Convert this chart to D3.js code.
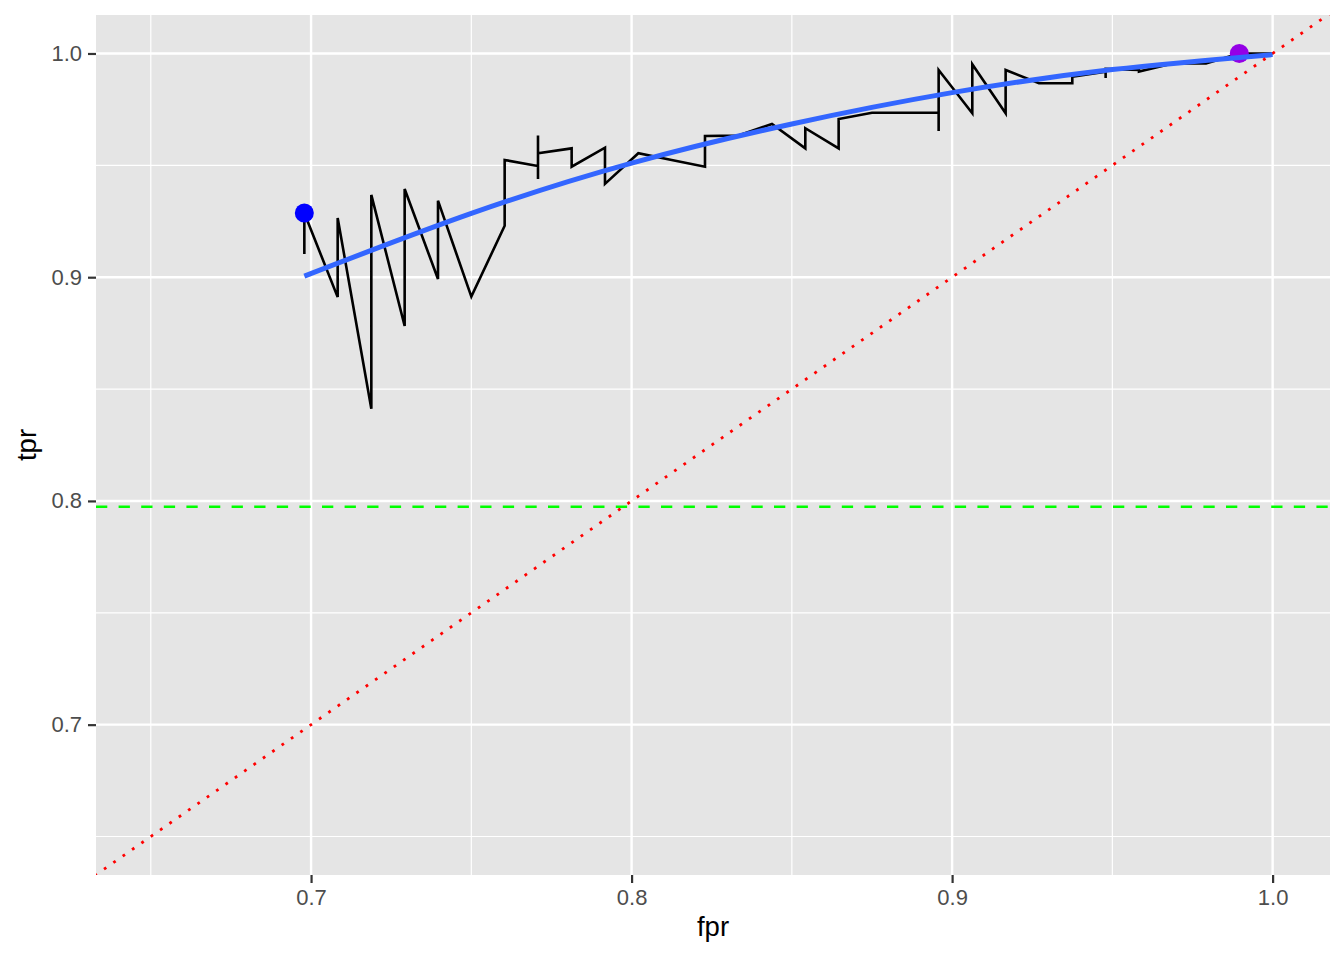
<!DOCTYPE html>
<html>
<head>
<meta charset="utf-8">
<script src="https://cdn.jsdelivr.net/npm/d3@7"></script>
<style>
  html, body { margin: 0; padding: 0; background: #ffffff; }
  svg { display: block; }
  text { font-family: "Liberation Sans", Arial, Helvetica, sans-serif; }
</style>
</head>
<body>
<svg id="chart" width="1344" height="960"></svg>
<script>
// ---- data ----
const fpr = [0.6979,0.6979,0.7083,0.7083,0.7188,0.7188,0.7292,0.7292,0.7396,0.7396,0.75,0.7604,0.7604,0.7708,0.7708,0.7708,0.7708,0.7813,0.7813,0.7917,0.7917,0.8021,0.8125,0.8229,0.8229,0.8333,0.8438,0.8542,0.8542,0.8646,0.8646,0.875,0.8854,0.8958,0.8958,0.8958,0.9063,0.9063,0.9167,0.9167,0.9271,0.9375,0.9375,0.9479,0.9479,0.9479,0.9583,0.9583,0.9688,0.9792,0.9896,1.0];
const tpr = [0.9104,0.9287,0.8911,0.9265,0.8412,0.9368,0.8782,0.9394,0.8992,0.9342,0.8913,0.9230,0.9524,0.9497,0.9439,0.9633,0.9554,0.9576,0.9494,0.9579,0.9417,0.9554,0.9524,0.9494,0.9631,0.9633,0.9685,0.9576,0.9666,0.9576,0.9707,0.9735,0.9735,0.9735,0.9654,0.9926,0.9733,0.9952,0.9733,0.9926,0.9867,0.9867,0.9896,0.9919,0.9890,0.9931,0.9926,0.9919,0.9955,0.9955,1.0,1.0];
const smoothFpr = [0.6979,0.75,0.8,0.85,0.9,0.95,1.0];
const smoothTpr = [0.9005,0.9285,0.9510,0.9685,0.9825,0.9928,0.9995];
const markFpr = [0.6979,0.9896];
const markTpr = [0.9287,1.0];
const markColor = ["#0000FF","#9400E6"];
const hlineTpr = 0.7974;
const xTicks = [0.7,0.8,0.9,1.0];
const xMinor = [0.65,0.75,0.85,0.95];
const yTicks = [0.7,0.8,0.9,1.0];
const yMinor = [0.65,0.75,0.85,0.95];
const xDomain = [0.6329,1.0179];
const yDomain = [0.6328,1.0172];

// ---- layout ----
const panel = {left:96, right:1330, top:15, bottom:875};
const svg = d3.select("#chart");
const x = d3.scaleLinear().domain(xDomain).range([panel.left, panel.right]);
const y = d3.scaleLinear().domain(yDomain).range([panel.bottom, panel.top]);

svg.append("defs").append("clipPath").attr("id","clip")
  .append("rect").attr("x",panel.left).attr("y",panel.top)
  .attr("width",panel.right-panel.left).attr("height",panel.bottom-panel.top);

svg.append("rect").attr("x",panel.left).attr("y",panel.top)
  .attr("width",panel.right-panel.left).attr("height",panel.bottom-panel.top)
  .attr("fill","#E5E5E5");

const grid = svg.append("g");
grid.selectAll(".xmin").data(xMinor).enter().append("line")
  .attr("x1",d=>x(d)).attr("x2",d=>x(d)).attr("y1",panel.top).attr("y2",panel.bottom)
  .attr("stroke","#fff").attr("stroke-width",1.2);
grid.selectAll(".ymin").data(yMinor).enter().append("line")
  .attr("y1",d=>y(d)).attr("y2",d=>y(d)).attr("x1",panel.left).attr("x2",panel.right)
  .attr("stroke","#fff").attr("stroke-width",1.2);
grid.selectAll(".xmaj").data(xTicks).enter().append("line")
  .attr("x1",d=>x(d)).attr("x2",d=>x(d)).attr("y1",panel.top).attr("y2",panel.bottom)
  .attr("stroke","#fff").attr("stroke-width",2.4);
grid.selectAll(".ymaj").data(yTicks).enter().append("line")
  .attr("y1",d=>y(d)).attr("y2",d=>y(d)).attr("x1",panel.left).attr("x2",panel.right)
  .attr("stroke","#fff").attr("stroke-width",2.4);

const plot = svg.append("g").attr("clip-path","url(#clip)");

// ROC path
const pts = fpr.map((f,i)=>[f,tpr[i]]);
plot.append("path").datum(pts)
  .attr("fill","none").attr("stroke","#000").attr("stroke-width",2.6)
  .attr("stroke-linejoin","miter")
  .attr("d", d3.line().x(d=>x(d[0])).y(d=>y(d[1])));

// points
plot.selectAll(".mark").data(markFpr.map((f,i)=>({f, t:markTpr[i], c:markColor[i]})))
  .enter().append("circle")
  .attr("cx",d=>x(d.f)).attr("cy",d=>y(d.t)).attr("r",9.5)
  .attr("fill",d=>d.c);

// smooth fit
const sm = smoothFpr.map((f,i)=>[f,smoothTpr[i]]);
plot.append("path").datum(sm)
  .attr("fill","none").attr("stroke","#3366FF").attr("stroke-width",5)
  .attr("d", d3.line().curve(d3.curveNatural).x(d=>x(d[0])).y(d=>y(d[1])));

// diagonal y = x
plot.append("line")
  .attr("x1",x(xDomain[0]-0.05)).attr("y1",y(xDomain[0]-0.05))
  .attr("x2",x(xDomain[1]+0.05)).attr("y2",y(xDomain[1]+0.05))
  .attr("stroke","#FF0000").attr("stroke-width",2.8)
  .attr("stroke-dasharray","2.8,8.6");

// horizontal dashed line
plot.append("line")
  .attr("x1",panel.left).attr("x2",panel.right)
  .attr("y1",y(hlineTpr)).attr("y2",y(hlineTpr))
  .attr("stroke","#00FF00").attr("stroke-width",2.6)
  .attr("stroke-dasharray","11.3,11.3");

// axes
const fmt = d3.format(".1f");
const xAxis = svg.append("g").attr("transform",`translate(0,${panel.bottom})`)
  .call(d3.axisBottom(x).tickValues(xTicks).tickFormat(fmt).tickSize(8).tickPadding(6));
const yAxis = svg.append("g").attr("transform",`translate(${panel.left},0)`)
  .call(d3.axisLeft(y).tickValues(yTicks).tickFormat(fmt).tickSize(8).tickPadding(6));
[xAxis,yAxis].forEach(a=>{
  a.select(".domain").remove();
  a.selectAll(".tick line").attr("stroke","#333333").attr("stroke-width",2.2);
  a.selectAll(".tick text").attr("fill","#4D4D4D").style("font-size","22px")
    .style("font-family",'"Liberation Sans", Arial, Helvetica, sans-serif');
});

svg.append("text").attr("x",(panel.left+panel.right)/2).attr("y",936)
  .attr("text-anchor","middle").style("font-size","27.5px").attr("fill","#000")
  .text("fpr");
svg.append("text").attr("transform",`translate(36,${(panel.top+panel.bottom)/2}) rotate(-90)`)
  .attr("text-anchor","middle").style("font-size","27.5px").attr("fill","#000")
  .text("tpr");
</script>
</body>
</html>
